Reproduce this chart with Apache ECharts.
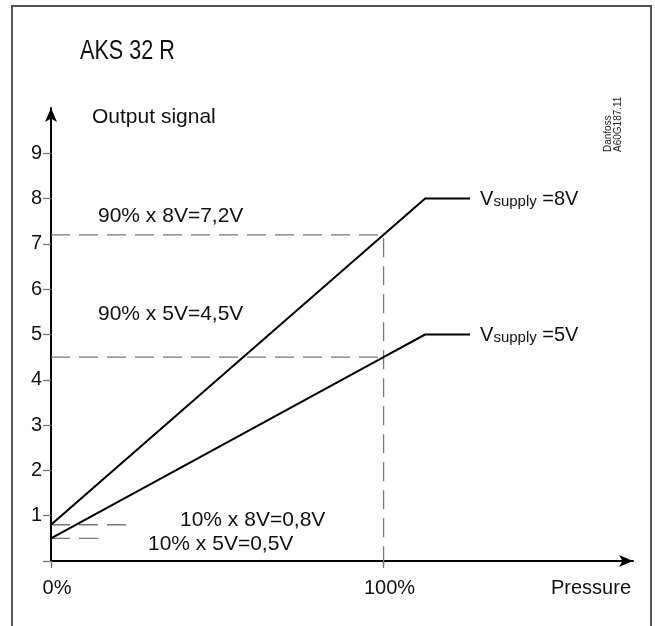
<!DOCTYPE html>
<html>
<head>
<meta charset="utf-8">
<script src="https://cdn.jsdelivr.net/npm/echarts@6/dist/echarts.min.js"></script>
<style>
html,body{margin:0;padding:0;background:#fff;}
#c{width:655px;height:626px;}
</style>
</head>
<body>
<div id="c"></div>
<script>
// ---- data ----
const titleText = 'AKS 32 R';
const yAxisName = 'Output signal';
const xAxisName = 'Pressure';
const xTickValues = [0, 100];
const yTickValues = [1, 2, 3, 4, 5, 6, 7, 8, 9];
const pressurePct = [0, 100, 112.5, 126];
const out8V = [0.8, 7.2, 8, 8];
const out5V = [0.5, 4.5, 5, 5];
const supplyLabels = ['8V', '5V'];
const ref72x = [0, 100, 100];
const ref72y = [7.2, 7.2, -0.16];
const ref45x = [0, 100];
const ref45y = [4.5, 4.5];
const ref08x = [0, 24];
const ref08y = [0.8, 0.8];
const ref05x = [0, 15];
const ref05y = [0.5, 0.5];
const noteTexts = ['90% x 8V=7,2V', '90% x 5V=4,5V', '10% x 8V=0,8V', '10% x 5V=0,5V'];
const codeTexts = ['Danfoss', 'A60G187.11'];

const zip = (xs, ys) => xs.map((x, i) => [x, ys[i]]);
const FONT = '"Liberation Sans", Arial, sans-serif';
const dashStyle = { color: '#777', width: 1.3, type: [19, 9] };

function refSeries(xs, ys) {
  return {
    type: 'line', data: zip(xs, ys), symbol: 'none', clip: false,
    lineStyle: dashStyle, silent: true, z: 1
  };
}
function supplySeries(ys, lbl) {
  return {
    type: 'line', data: zip(pressurePct, ys), symbol: 'none',
    lineStyle: { color: '#000', width: 2 }, z: 3,
    endLabel: {
      show: true, distance: 10,
      formatter: '{v|V}{s|supply}{v| =' + lbl + '}',
      rich: {
        v: { fontSize: 20, fontFamily: FONT, color: '#111', lineHeight: 22, verticalAlign: 'bottom' },
        s: { fontSize: 15, fontFamily: FONT, color: '#111', lineHeight: 10, verticalAlign: 'bottom' }
      }
    }
  };
}
function note(text, x, y) {
  return { type: 'text', x: x, y: y, style: { text: text, fontSize: 21, fontFamily: FONT, fill: '#111', verticalAlign: 'middle', align: 'left' } };
}

const chart = echarts.init(document.getElementById('c'), null, { renderer: 'canvas' });
chart.setOption({
  animation: false,
  backgroundColor: '#fff',
  grid: { left: 51, right: 22, top: 108, bottom: 65 },
  xAxis: {
    type: 'value', min: 0, max: 175,
    axisLine: { lineStyle: { color: '#000', width: 2 }, symbol: ['none', 'arrow'], symbolSize: [9, 14] },
    axisTick: { show: true, customValues: xTickValues, length: 7, lineStyle: { color: '#777', width: 1.3 } },
    axisLabel: {
      customValues: xTickValues, margin: 17, fontSize: 20, color: '#111', fontFamily: FONT,
      padding: [0, 0, 0, 12], formatter: v => v + '%'
    },
    splitLine: { show: false }
  },
  yAxis: {
    type: 'value', min: 0, max: 10, interval: 1,
    axisLine: { lineStyle: { color: '#000', width: 2 }, symbol: ['none', 'arrow'], symbolSize: [9, 14] },
    axisTick: { show: true, customValues: [0].concat(yTickValues), length: 8, lineStyle: { color: '#777', width: 1.3 } },
    axisLabel: { customValues: yTickValues, margin: 9, fontSize: 20, color: '#111', fontFamily: FONT },
    splitLine: { show: false }
  },
  series: [
    refSeries(ref72x, ref72y),
    refSeries(ref45x, ref45y),
    refSeries(ref08x, ref08y),
    refSeries(ref05x, ref05y),
    supplySeries(out8V, supplyLabels[0]),
    supplySeries(out5V, supplyLabels[1])
  ],
  graphic: [
    { type: 'rect', shape: { x: 12, y: 6, width: 639, height: 640 },
      style: { fill: 'none', stroke: '#555', lineWidth: 2 }, z: -10, silent: true },
    { type: 'text', x: 80, y: 52, scaleX: 0.8, style: { text: titleText, fontSize: 27, fontFamily: FONT, fill: '#111', verticalAlign: 'middle', align: 'left' } },
    { type: 'text', x: 92, y: 117, style: { text: yAxisName, fontSize: 21, fontFamily: FONT, fill: '#111', verticalAlign: 'middle', align: 'left' } },
    { type: 'text', x: 631, y: 588, style: { text: xAxisName, fontSize: 20, fontFamily: FONT, fill: '#111', verticalAlign: 'middle', align: 'right' } },
    note(noteTexts[0], 98, 216),
    note(noteTexts[1], 98, 314),
    note(noteTexts[2], 180, 520),
    note(noteTexts[3], 148, 544),
    { type: 'text', x: 608, y: 152, rotation: Math.PI / 2, style: { text: codeTexts[0], fontSize: 10, fontFamily: FONT, fill: '#222', verticalAlign: 'middle', align: 'left' } },
    { type: 'text', x: 618, y: 152, rotation: Math.PI / 2, style: { text: codeTexts[1], fontSize: 10, fontFamily: FONT, fill: '#222', verticalAlign: 'middle', align: 'left' } }
  ]
});
</script>
</body>
</html>
